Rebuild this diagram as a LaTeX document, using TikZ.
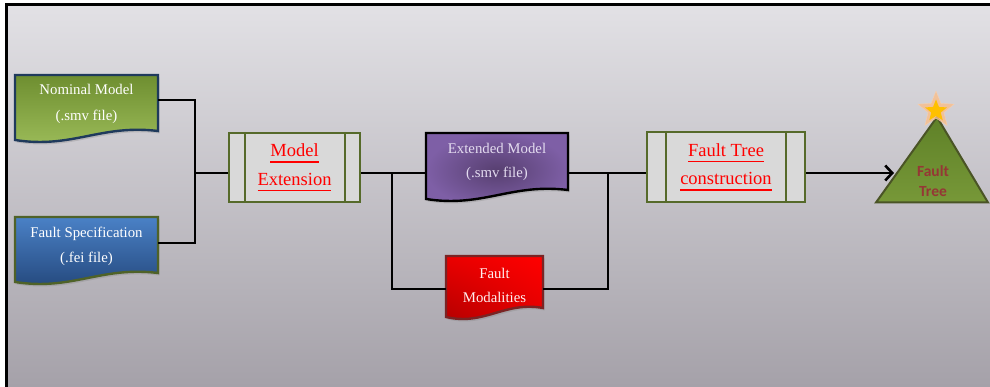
\documentclass[tikz,border=0pt]{standalone}
\usepackage{fontspec}
\setmainfont{Liberation Serif}
\newfontfamily\treefont{Carlito}
\usetikzlibrary{arrows.meta,shapes.geometric,shadows,shadings}

% underlined word: rule of the word's width below its baseline
\newcommand\ulword[1]{\setbox0\hbox{#1}\rlap{\copy0}\rule[-6pt]{\wd0}{1.6pt}}

\definecolor{bgTop}{HTML}{E2E1E5}
\definecolor{bgBot}{HTML}{A5A1A9}
\definecolor{nomTop}{HTML}{6E8E30}
\definecolor{nomBot}{HTML}{9DBD5A}
\definecolor{nomLine}{HTML}{1F3A5C}
\definecolor{specTop}{HTML}{4A81C6}
\definecolor{specBot}{HTML}{23467A}
\definecolor{specLine}{HTML}{4F6228}
\definecolor{extIn}{HTML}{573F70}
\definecolor{extOut}{HTML}{7E5FA6}
\definecolor{extText}{HTML}{E4DCF0}
\definecolor{fmDark}{HTML}{B00000}
\definecolor{fmLine}{HTML}{7A2424}
\definecolor{procFill}{HTML}{D9D9D9}
\definecolor{procLine}{HTML}{566A2A}
\definecolor{treeTop}{HTML}{5F8128}
\definecolor{treeBot}{HTML}{779838}
\definecolor{treeLine}{HTML}{4A5426}
\definecolor{treeText}{HTML}{953735}
\definecolor{starGlow}{HTML}{F9BE8A}
\definecolor{starCore}{HTML}{FFC000}

% document symbol: flat top, wavy bottom edge
% #1 style, #2 left x, #3 top y, #4 right x, #5 bottom y at the right edge
\newcommand\docshape[5]{%
  \path[#1] (#2,#3) -- (#4,#3) -- (#4,#5)
    .. controls ({#2+0.6*(#4-#2)},{#5-7}) and ({#2+0.4*(#4-#2)},{#5+18}) ..
    (#2,{#5+9}) -- cycle;}

\begin{document}
\begin{tikzpicture}[x=1pt,y=-1pt,
  wire/.style={line width=2.6pt, black},
  docbox/.style={line width=2.4pt,
    drop shadow={shadow xshift=1.5pt, shadow yshift=-2.5pt, opacity=0.3}},
  doctext/.style={inner sep=0pt, align=center, text=white,
    font=\fontsize{14.8}{25.5}\selectfont},
  proc/.style={draw=procLine, line width=2.3pt, fill=procFill, inner sep=0pt,
    align=center, text=red, font=\fontsize{18.5}{28.5}\selectfont},
  bar/.style={procLine, line width=2.3pt},
]
\useasboundingbox (0,0) rectangle (990,387);
\fill[white] (0,0) rectangle (990,387);
\shade[top color=bgTop, bottom color=bgBot] (7,4.5) rectangle (990,387);
\draw[line width=2.6pt] (6.3,387) -- (6.3,4.3) -- (990,4.3);

% input documents
\docshape{docbox, draw=nomLine, top color=nomTop, bottom color=nomBot}{15}{75}{158}{131}
\node[doctext, minimum width=143pt, minimum height=56pt] (nom) at (86.5,104)
  {Nominal Model\\(.smv file)};
\docshape{docbox, draw=specLine, top color=specTop, bottom color=specBot}{15}{217}{158}{273}
\node[doctext, minimum width=143pt, minimum height=56pt] (spec) at (86.5,246.5)
  {Fault Specification\\(.fei file)};

% model extension step
\node[proc, minimum width=131pt, minimum height=69pt] (mext) at (294.5,167.5)
  {\ulword{Model}\\\ulword{Extension}};
\draw[bar] ([xshift=17pt]mext.north west) -- ([xshift=17pt]mext.south west);
\draw[bar] ([xshift=-16pt]mext.north east) -- ([xshift=-16pt]mext.south east);

% intermediate documents
\docshape{docbox, draw=black, inner color=extIn, outer color=extOut}{426}{133}{568}{190}
\node[doctext, text=extText, minimum width=142pt, minimum height=57pt,
  font=\fontsize{14.8}{24}\selectfont] (ext) at (497,162)
  {Extended Model\\(.smv file)};
\docshape{docbox, draw=fmLine, upper left=red!92!black, upper right=red,
  lower left=fmDark, lower right=red!88!black}{446}{256}{543}{308}
\node[doctext, text=white!94!red, minimum width=97pt, minimum height=52pt,
  font=\fontsize{14.8}{24}\selectfont] (fmod) at (494.5,285)
  {Fault\\Modalities};

% fault tree construction step
\node[proc, minimum width=158pt, minimum height=70pt] (fte) at (726,167)
  {\ulword{Fault Tree}\\\ulword{construction}};
\draw[bar] ([xshift=20pt]fte.north west) -- ([xshift=20pt]fte.south west);
\draw[bar] ([xshift=-20pt]fte.north east) -- ([xshift=-20pt]fte.south east);

% resulting fault tree
\draw[line width=2pt, draw=treeLine, top color=treeTop, bottom color=treeBot]
  (937,117) -- (988,202.5) -- (876,202.5) -- cycle;
\node[text=treeText, align=center, inner sep=0pt,
  font=\treefont\bfseries\fontsize{15.5}{20}\selectfont] (tree) at (933,181) {Fault\\Tree};
\node[star, star points=5, star point ratio=2.3, minimum size=38pt, inner sep=0pt,
  fill=starGlow, draw=starGlow!70, opacity=0.8] (glow) at (936,110) {};
\node[star, star points=5, star point ratio=2.3, minimum size=23pt, inner sep=0pt,
  fill=starCore] (topstar) at (936,111) {};

% connectors
\coordinate (j1) at (195,173);
\coordinate (b1) at (392,173);
\coordinate (b2) at (608,173);
\coordinate (treein) at (894,173);
\draw[wire] ([yshift=4pt]nom.east) -| (j1);
\draw[wire] ([yshift=3.5pt]spec.east) -| (j1);
\draw[wire] (j1) -- (mext.west |- j1);
\draw[wire] (mext.east |- j1) -- (ext.west |- j1);
\draw[wire] (b1) |- ([yshift=-4pt]fmod.west);
\draw[wire] (ext.east |- b2) -- (fte.west |- b2);
\draw[wire] (b2) |- ([yshift=-4pt]fmod.east);
\draw[wire, -{Straight Barb[length=7pt,width=15pt]}] (fte.east |- b2) -- (treein);
\end{tikzpicture}
\end{document}
